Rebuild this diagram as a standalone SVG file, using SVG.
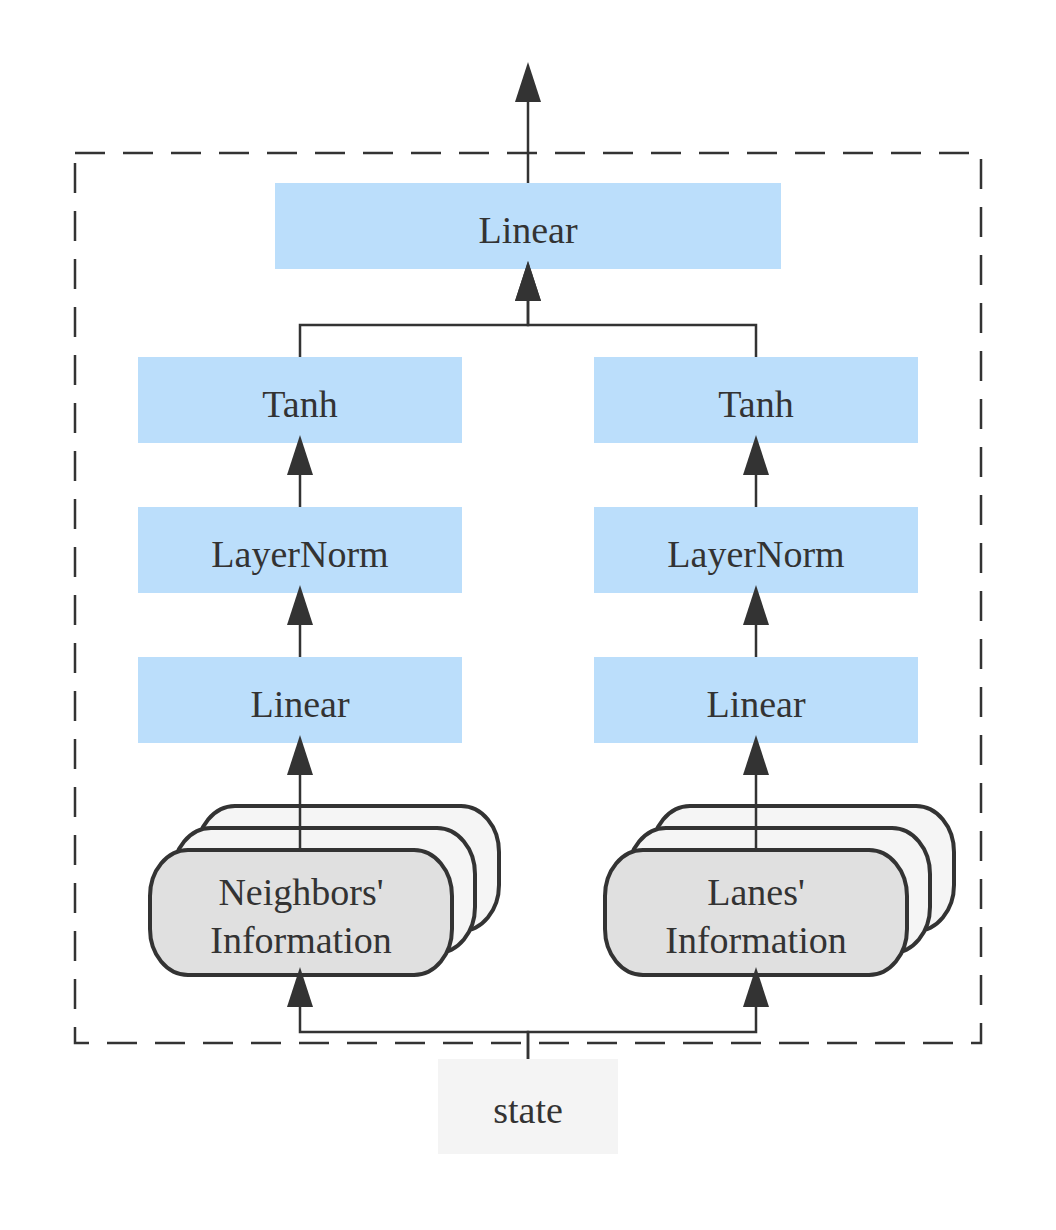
<svg xmlns="http://www.w3.org/2000/svg" width="1056" height="1230" viewBox="0 0 1056 1230">
<defs>
<marker id="arr" markerUnits="userSpaceOnUse" markerWidth="42" markerHeight="28" refX="32" refY="13" orient="auto">
<path d="M0,0 L40,13 L0,26 Z" fill="#333"/>
</marker>
<style>
.box{fill:#bbdefb;}
.lbl{font-family:"Liberation Serif","Times New Roman",serif;font-size:38px;fill:#333;text-anchor:middle;}
.stk{stroke:#333;stroke-width:4;}
.back{fill:#f5f5f5;}
.front{fill:#e0e0e0;}
.edge{fill:none;stroke:#333;stroke-width:2.5;}
.arrow{marker-end:url(#arr);}
</style>
</defs>
<rect x="0" y="0" width="1056" height="1230" fill="#fff"/>
<g id="cluster">
<rect x="75" y="153" width="906" height="890" fill="none" stroke="#333" stroke-width="2.5" stroke-dasharray="30 18"/>
</g>
<g id="state"><rect x="438" y="1059" width="180" height="95" fill="#f4f4f4"/><text class="lbl" x="528" y="1123">state</text></g>
<g id="linear_out"><rect class="box" x="275" y="183" width="506" height="86"/><text class="lbl" x="528" y="243">Linear</text></g>
<g id="tanh_l"><rect class="box" x="138" y="357" width="324" height="86"/><text class="lbl" x="300" y="417">Tanh</text></g>
<g id="tanh_r"><rect class="box" x="594" y="357" width="324" height="86"/><text class="lbl" x="756" y="417">Tanh</text></g>
<g id="ln_l"><rect class="box" x="138" y="507" width="324" height="86"/><text class="lbl" x="300" y="567">LayerNorm</text></g>
<g id="ln_r"><rect class="box" x="594" y="507" width="324" height="86"/><text class="lbl" x="756" y="567">LayerNorm</text></g>
<g id="lin_l"><rect class="box" x="138" y="657" width="324" height="86"/><text class="lbl" x="300" y="717">Linear</text></g>
<g id="lin_r"><rect class="box" x="594" y="657" width="324" height="86"/><text class="lbl" x="756" y="717">Linear</text></g>
<g id="neighbors">
<rect class="stk back" x="197" y="806" width="302" height="125" rx="38" ry="46"/>
<rect class="stk back" x="173" y="828" width="302" height="125" rx="38" ry="46"/>
<rect class="stk front" x="150" y="850" width="302" height="125" rx="38" ry="46"/>
<text class="lbl" x="301" y="905">Neighbors'</text>
<text class="lbl" x="301" y="953">Information</text>
</g>
<g id="lanes">
<rect class="stk back" x="652" y="806" width="302" height="125" rx="38" ry="46"/>
<rect class="stk back" x="628" y="828" width="302" height="125" rx="38" ry="46"/>
<rect class="stk front" x="605" y="850" width="302" height="125" rx="38" ry="46"/>
<text class="lbl" x="756" y="905">Lanes'</text>
<text class="lbl" x="756" y="953">Information</text>
</g>
<g id="connectors">
<path class="edge arrow" d="M528,183 V70"/>
<path class="edge arrow" d="M300,357 V325 H528 V269"/>
<path class="edge arrow" d="M756,357 V325 H528 V269"/>
<path class="edge arrow" d="M300,507 V443"/>
<path class="edge arrow" d="M756,507 V443"/>
<path class="edge arrow" d="M300,657 V593"/>
<path class="edge arrow" d="M756,657 V593"/>
<path class="edge arrow" d="M300,850 V743"/>
<path class="edge arrow" d="M756,850 V743"/>
<path class="edge arrow" d="M528,1059 V1032 H300 V975"/>
<path class="edge arrow" d="M528,1059 V1032 H756 V975"/>
</g>
</svg>
